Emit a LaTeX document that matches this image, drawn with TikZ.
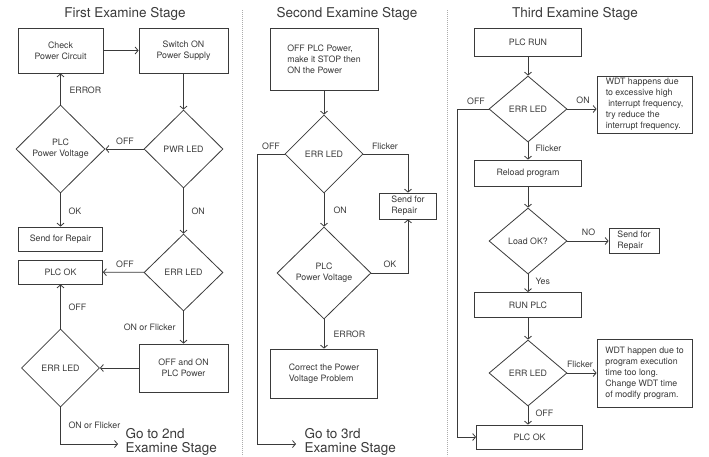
\documentclass[tikz,border=0pt]{standalone}
\usepackage{fontspec}
\setmainfont{TeX Gyre Heros}
\usetikzlibrary{shapes.geometric,arrows.meta}
\definecolor{ink}{HTML}{3A3A3A}
\begin{document}
\begin{tikzpicture}[x=1pt,y=-1pt,
  every node/.style={text=ink, font=\fontsize{8.8}{11}\selectfont},
  box/.style={draw=ink, line width=0.8pt, inner sep=0pt, align=center},
  dia/.style={diamond, draw=ink, line width=0.8pt, inner sep=0pt, align=center},
  arr/.style={draw=ink, line width=0.8pt, -{Straight Barb[length=3pt,width=7pt]}},
  ttl/.style={font=\fontsize{13.5}{15}\selectfont},
  big/.style={font=\fontsize{13.5}{14}\selectfont, align=left},
  sepline/.style={draw=gray!65, line width=0.8pt, dash pattern=on 0.9pt off 1.1pt}]
\useasboundingbox (0,0) rectangle (709,456);
\fill[white] (0,0) rectangle (709,456);

% separators
\coordinate (s1a) at (242,10); \coordinate (s1b) at (242,456);
\coordinate (s2a) at (447,10); \coordinate (s2b) at (447,456);
\draw[sepline] (s1a) -- (s1b);
\draw[sepline] (s2a) -- (s2b);

% ---------- First stage ----------
\node[ttl] (t1) at (125,14) {First Examine Stage};
\node[box,minimum width=85pt,minimum height=45pt] (chk) at (60.5,50.5) {Check\\Power Circuit};
\node[box,minimum width=89pt,minimum height=45pt] (sw) at (183.5,50.5) {Switch ON\\Power Supply};
\node[dia,minimum width=89pt,minimum height=88pt] (ppv) at (60.5,149) {PLC\\Power Voltage};
\node[dia,minimum width=79pt,minimum height=78pt] (pwr) at (183.5,149) {PWR LED};
\node[box,minimum width=84pt,minimum height=24pt] (sfr1) at (60.5,239) {Send for Repair};
\node[dia,minimum width=79pt,minimum height=77pt] (e1) at (183.5,272.5) {ERR LED};
\node[box,minimum width=84pt,minimum height=24pt] (ok1) at (60.5,272) {PLC OK};
\node[box,minimum width=89pt,minimum height=48pt] (oo) at (183.5,368) {OFF and ON\\PLC Power};
\node[dia,minimum width=78pt,minimum height=78pt] (e2) at (60.5,368) {ERR LED};
\node[big,anchor=west] (go2) at (122,442) {Go to 2nd\\Examine Stage};
\coordinate (g2) at (118,444);

\draw[arr] (chk) -- (sw);
\draw[arr] (sw) -- (pwr);
\draw[arr] (pwr) -- (ppv);
\draw[arr] (ppv) -- (chk);
\draw[arr] (ppv) -- (sfr1);
\draw[arr] (pwr) -- (e1);
\draw[arr] (e1) -- (ok1);
\draw[arr] (e1) -- (oo);
\draw[arr] (oo) -- (e2);
\draw[arr] (e2) -- (ok1);
\draw[arr] (e2.south) |- (g2);

\node[anchor=west] (l1) at (66,90) {ERROR};
\node (l2) at (125,141) {OFF};
\node[anchor=west] (l3) at (65,211) {OK};
\node[anchor=west] (l4) at (188,211) {ON};
\node (l5) at (125,264) {OFF};
\node[anchor=east] (l6) at (179,327) {ON or Flicker};
\node[anchor=west] (l7) at (65,307) {OFF};
\node[anchor=west] (l8) at (65,425) {ON or Flicker};

% ---------- Second stage ----------
\node[ttl] (t2) at (347,14) {Second Examine Stage};
\node[box,align=left,minimum width=108pt,minimum height=62pt] (opp) at (324,59) {OFF PLC Power,\\make it STOP then\\ON the Power};
\node[dia,minimum width=78pt,minimum height=78pt] (eB) at (324,154) {ERR LED};
\node[box,align=left,minimum width=57pt,minimum height=26pt] (sfB) at (408,206) {Send for\\Repair};
\node[dia,minimum width=94pt,minimum height=92pt] (pB) at (324,273) {PLC\\Power Voltage};
\node[box,align=left,minimum width=107pt,minimum height=49pt] (cpv) at (324,373.5) {Correct the Power\\Voltage Problem};
\node[big,anchor=west] (go3) at (301,442) {Go to 3rd\\Examine Stage};
\coordinate (b1) at (257,154);
\coordinate (g3) at (296,444);

\draw[arr] (opp) -- (eB);
\draw[arr] (eB.west) -- (b1) |- (g3);
\draw[arr] (eB.east) -| (sfB.north);
\draw[arr] (eB) -- (pB);
\draw[arr] (pB.east) -| (sfB.south);
\draw[arr] (pB) -- (cpv);

\node (m1) at (271,146) {OFF};
\node (m2) at (385,146) {Flicker};
\node[anchor=west] (m3) at (330,210) {ON};
\node (m4) at (390,264) {OK};
\node[anchor=west] (m5) at (330,334) {ERROR};

% ---------- Third stage ----------
\node[ttl] (t3) at (575,14) {Third Examine Stage};
\node[box,minimum width=107pt,minimum height=28pt] (run) at (528,42) {PLC RUN};
\node[dia,minimum width=78pt,minimum height=66pt] (eC) at (528,109) {ERR LED};
\node[box,align=left,minimum width=95pt,minimum height=57pt] (w1) at (644.5,104.5) {WDT happens due\\to excessive high\\\hspace*{2.5pt}interrupt frequency,\\try reduce the\\interrupt frequency.};
\node[box,minimum width=107pt,minimum height=26pt] (rel) at (528,173) {Reload program};
\node[dia,minimum width=78pt,minimum height=66pt] (ld) at (528,241) {Load OK?};
\node[box,align=left,minimum width=50pt,minimum height=25pt] (sfC) at (634,240.5) {Send for\\Repair};
\node[box,minimum width=107pt,minimum height=25pt] (rp) at (528,305) {RUN PLC};
\node[dia,minimum width=78pt,minimum height=66pt] (eD) at (528,373) {ERR LED};
\node[box,align=left,minimum width=95pt,minimum height=68pt] (w2) at (644.5,373) {WDT happen due to\\program execution\\time too long.\\Change WDT time\\of modify program.};
\node[box,minimum width=106pt,minimum height=24pt] (okC) at (529.5,437) {PLC OK};
\coordinate (c1) at (457,109);

\draw[arr] (run) -- (eC);
\draw[arr] (eC.east) -- (eC.east -| w1.west);
\draw[arr] (eC) -- (rel);
\draw[arr] (rel) -- (ld);
\draw[arr] (ld.east) -- (ld.east -| sfC.west);
\draw[arr] (ld) -- (rp);
\draw[arr] (rp) -- (eD);
\draw[arr] (eD) -- (w2);
\draw[arr] (eD.south) -- (eD.south |- okC.north);
\draw[arr] (eC.west) -- (c1) |- (okC.west);

\node (n1) at (476,101) {OFF};
\node (n2) at (583,100) {ON};
\node[anchor=west] (n3) at (532,148) {Flicker};
\node (n4) at (588.5,232) {NO};
\node[anchor=west] (n5) at (532,281) {Yes};
\node (n6) at (580,364) {Flicker};
\node[anchor=west] (n7) at (532,413) {OFF};
\end{tikzpicture}
\end{document}
